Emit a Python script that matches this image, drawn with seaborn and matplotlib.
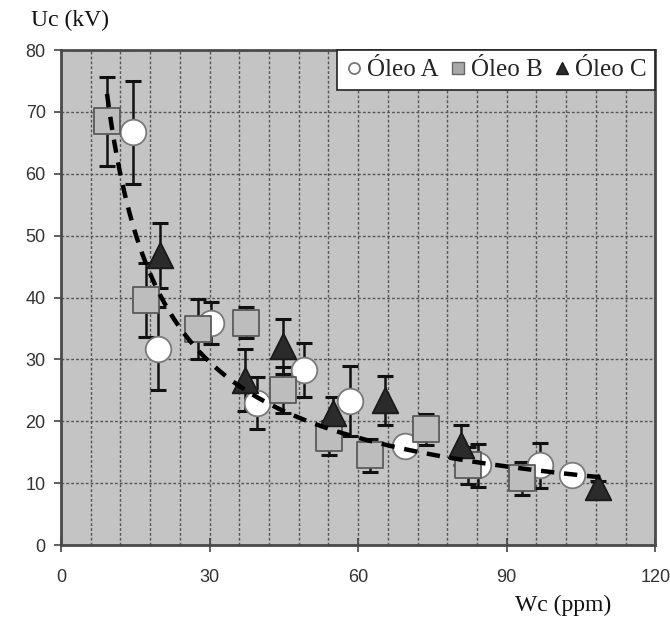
import numpy as np
import pandas as pd
import matplotlib
matplotlib.use("Agg")
import matplotlib.pyplot as plt
from matplotlib.lines import Line2D
from matplotlib.ticker import MultipleLocator
import seaborn as sns

# ---- data ----
a_x = [14.5, 19.6, 30.3, 39.6, 49.1, 58.4, 69.5, 84.2, 96.8, 103.2]
a_y = [66.7, 31.7, 35.9, 22.9, 28.3, 23.3, 16.0, 12.9, 12.9, 11.3]
a_e = [8.3, 6.7, 3.4, 4.2, 4.4, 5.6, 1.0, 3.5, 3.6, 1.0]

b_x = [9.3, 17.2, 27.7, 37.4, 44.8, 54.1, 62.4, 73.7, 82.2, 93.1]
b_y = [68.5, 39.6, 34.9, 35.9, 25.0, 17.3, 14.5, 18.7, 12.9, 10.8]
b_e = [7.2, 6.0, 4.8, 2.5, 3.7, 2.8, 2.7, 2.5, 3.0, 2.7]

c_x = [20.0, 37.2, 44.8, 55.0, 65.5, 80.8, 108.5]
c_y = [46.8, 26.7, 32.1, 21.3, 23.4, 16.2, 9.4]
c_e = [5.2, 5.0, 4.5, 2.6, 4.0, 3.2, 1.0]

series_names = ["Óleo A", "Óleo B", "Óleo C"]
x_ticks = [0, 30, 60, 90, 120]
y_ticks = [0, 10, 20, 30, 40, 50, 60, 70, 80]

# power-law trendline y = a * x^b, coefficients
trend_a = 406.0
trend_b = -0.77
trend_range = [9.3, 109.0]

df = pd.concat([
    pd.DataFrame({"x": a_x, "y": a_y, "e": a_e, "s": series_names[0]}),
    pd.DataFrame({"x": b_x, "y": b_y, "e": b_e, "s": series_names[1]}),
    pd.DataFrame({"x": c_x, "y": c_y, "e": c_e, "s": series_names[2]}),
], ignore_index=True)

tx = np.linspace(trend_range[0], trend_range[1], 200)
trend = pd.DataFrame({"x": tx, "y": trend_a * tx ** trend_b})

# ---- styling ----
sns.set_style("white")
plt.rcParams["font.family"] = ["Liberation Sans", "DejaVu Sans"]

fig = plt.figure(figsize=(6.70, 6.18), dpi=100)
ax = fig.add_axes([0.091, 0.118, 0.887, 0.801])
ax.set_facecolor("#c4c4c4")

styles = {
    "Óleo A": dict(marker="o", face="#ffffff", edge="#7a7a7a"),
    "Óleo B": dict(marker="s", face="#bdbdbd", edge="#5a5a5a"),
    "Óleo C": dict(marker="^", face="#2b2b2b", edge="#1a1a1a"),
}

for name in series_names:
    d = df[df["s"] == name]
    st = styles[name]
    ax.errorbar(d["x"], d["y"], yerr=d["e"], fmt="none", ecolor="#111111",
                elinewidth=1.8, capsize=5.5, capthick=2.2, zorder=3)
    sns.scatterplot(data=d, x="x", y="y", marker=st["marker"], color=st["face"],
                    edgecolor=st["edge"], linewidth=1.3, s=340, ax=ax,
                    zorder=4, legend=False)

sns.lineplot(data=trend, x="x", y="y", color="black", linewidth=3.2,
             dashes=(3, 2.2), ax=ax, zorder=5, legend=False)

ax.set_xlim(0, 120)
ax.set_ylim(0, 80)
ax.set_xticks(x_ticks)
ax.set_yticks(y_ticks)
ax.xaxis.set_minor_locator(MultipleLocator(6))
grid_kw = dict(color="#555555", linestyle=(0, (2, 1.5)), linewidth=1.0)
ax.grid(which="major", axis="y", **grid_kw)
ax.grid(which="minor", axis="x", **grid_kw)
ax.grid(which="major", axis="x", **grid_kw)
ax.set_axisbelow(True)

ax.tick_params(axis="x", which="major", direction="inout", length=10, width=1.2,
               color="#444444", labelsize=13, labelcolor="#333333", pad=12)
ax.tick_params(axis="x", which="minor", length=0)
ax.tick_params(axis="y", which="major", direction="out", length=5, width=1.2,
               color="#444444", labelsize=13, labelcolor="#333333", pad=6)
ax.tick_params(left=True, bottom=True)

for sp in ax.spines.values():
    sp.set_color("#4a4a4a")
    sp.set_linewidth(2.0)
    sp.set_visible(True)

ax.set_xlabel("")
ax.set_ylabel("")
fig.text(0.046, 0.967, "Uc (kV)", family=["Liberation Serif", "DejaVu Serif"],
         fontsize=17, ha="left", va="center", color="#111111")
fig.text(0.768, 0.021, "Wc (ppm)", family=["Liberation Serif", "DejaVu Serif"],
         fontsize=17, ha="left", va="center", color="#111111")

handles = [
    Line2D([], [], linestyle="none", marker="o", markersize=8,
           markerfacecolor="#ffffff", markeredgecolor="#777777", markeredgewidth=1.3),
    Line2D([], [], linestyle="none", marker="s", markersize=8,
           markerfacecolor="#a8a8a8", markeredgecolor="#666666", markeredgewidth=1.0),
    Line2D([], [], linestyle="none", marker="^", markersize=8,
           markerfacecolor="#2b2b2b", markeredgecolor="#1a1a1a"),
]
leg = ax.legend(handles, series_names, ncol=3, loc="upper right",
                bbox_to_anchor=(1.0, 1.0), frameon=True, fancybox=False,
                handlelength=0.7, handletextpad=0.15, columnspacing=0.45,
                borderpad=0.35, borderaxespad=0.0,
                prop={"family": ["Liberation Serif", "DejaVu Serif"], "size": 18})
leg.get_frame().set_edgecolor("#222222")
leg.get_frame().set_linewidth(1.2)
leg.get_frame().set_facecolor("white")
leg.get_frame().set_alpha(1.0)
leg.set_zorder(10)

fig.patch.set_facecolor("white")
fig.savefig("out.png", dpi=100, facecolor="white")
